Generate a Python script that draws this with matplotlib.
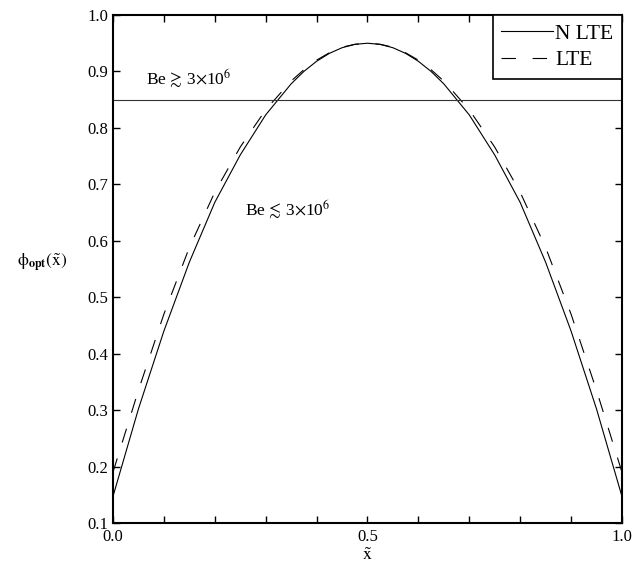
import matplotlib
matplotlib.use("Agg")
import matplotlib.pyplot as plt
from matplotlib.ticker import MultipleLocator, FormatStrFormatter

plt.rcParams['font.family'] = ['Liberation Serif', 'DejaVu Serif']
plt.rcParams['mathtext.fontset'] = 'stix'

# valores (x de 0 a 1, curvas simetricas)
x_vals = [0.0, 0.05, 0.10, 0.15, 0.20, 0.25, 0.30, 0.35, 0.375, 0.40, 0.425, 0.45, 0.475, 0.50,
          0.525, 0.55, 0.575, 0.60, 0.625, 0.65, 0.70, 0.75, 0.80, 0.85, 0.90, 0.95, 1.0]
phi_nlte = [0.147, 0.302, 0.440, 0.562, 0.668, 0.752, 0.823, 0.878, 0.900, 0.918, 0.932, 0.942, 0.948, 0.950,
            0.948, 0.942, 0.932, 0.918, 0.900, 0.878, 0.823, 0.752, 0.668, 0.562, 0.440, 0.302, 0.147]
phi_lte = [0.190, 0.335, 0.470, 0.588, 0.686, 0.766, 0.832, 0.883, 0.903, 0.920, 0.933, 0.943, 0.948, 0.950,
           0.948, 0.943, 0.933, 0.920, 0.903, 0.883, 0.832, 0.766, 0.686, 0.588, 0.470, 0.335, 0.190]
be_limit = 0.85

fig = plt.figure(figsize=(6.43, 5.77), dpi=100)
ax = fig.add_axes([0.1757, 0.0936, 0.7916, 0.8804])

ax.plot(x_vals, phi_nlte, color='black', lw=0.8, label='N LTE')
ax.plot(x_vals, phi_lte, color='black', lw=0.8, dashes=(13, 15), label='LTE')
ax.axhline(be_limit, color='#333333', lw=0.8)

ax.text(0.065, 0.876, r'Be$\,\gtrsim\,$3$\times$10$^6$', fontsize=12.5)
ax.text(0.259, 0.644, r'Be$\,\lesssim\,$3$\times$10$^6$', fontsize=12.5)

ax.set_xlim(0, 1)
ax.set_ylim(0.1, 1.0)
ax.xaxis.set_major_locator(MultipleLocator(0.5))
ax.xaxis.set_minor_locator(MultipleLocator(0.1))
ax.yaxis.set_major_locator(MultipleLocator(0.1))
ax.xaxis.set_major_formatter(FormatStrFormatter('%.1f'))
ax.yaxis.set_major_formatter(FormatStrFormatter('%.1f'))
ax.tick_params(which='both', direction='in', length=5, width=1,
               top=True, right=True, labelsize=12)
ax.tick_params(axis='x', pad=4)
for sp in ax.spines.values():
    sp.set_linewidth(1.5)

ax.set_xlabel(r'$\tilde{\mathrm{x}}$', fontsize=13, labelpad=2)
ax.set_ylabel(r'$\mathrm{\phi}_{\mathbf{opt}}(\tilde{\mathrm{x}})$', fontsize=12.5,
              rotation=0, labelpad=4)
ax.yaxis.set_label_coords(-0.14, 0.49)

leg = ax.legend(loc='upper right', fontsize=15.5, fancybox=False, edgecolor='black',
                framealpha=1, borderaxespad=0, handlelength=2.4, handletextpad=0.1,
                labelspacing=0.3, borderpad=0.4)
leg.get_frame().set_linewidth(1.2)

fig.savefig('out.png', dpi=100)
